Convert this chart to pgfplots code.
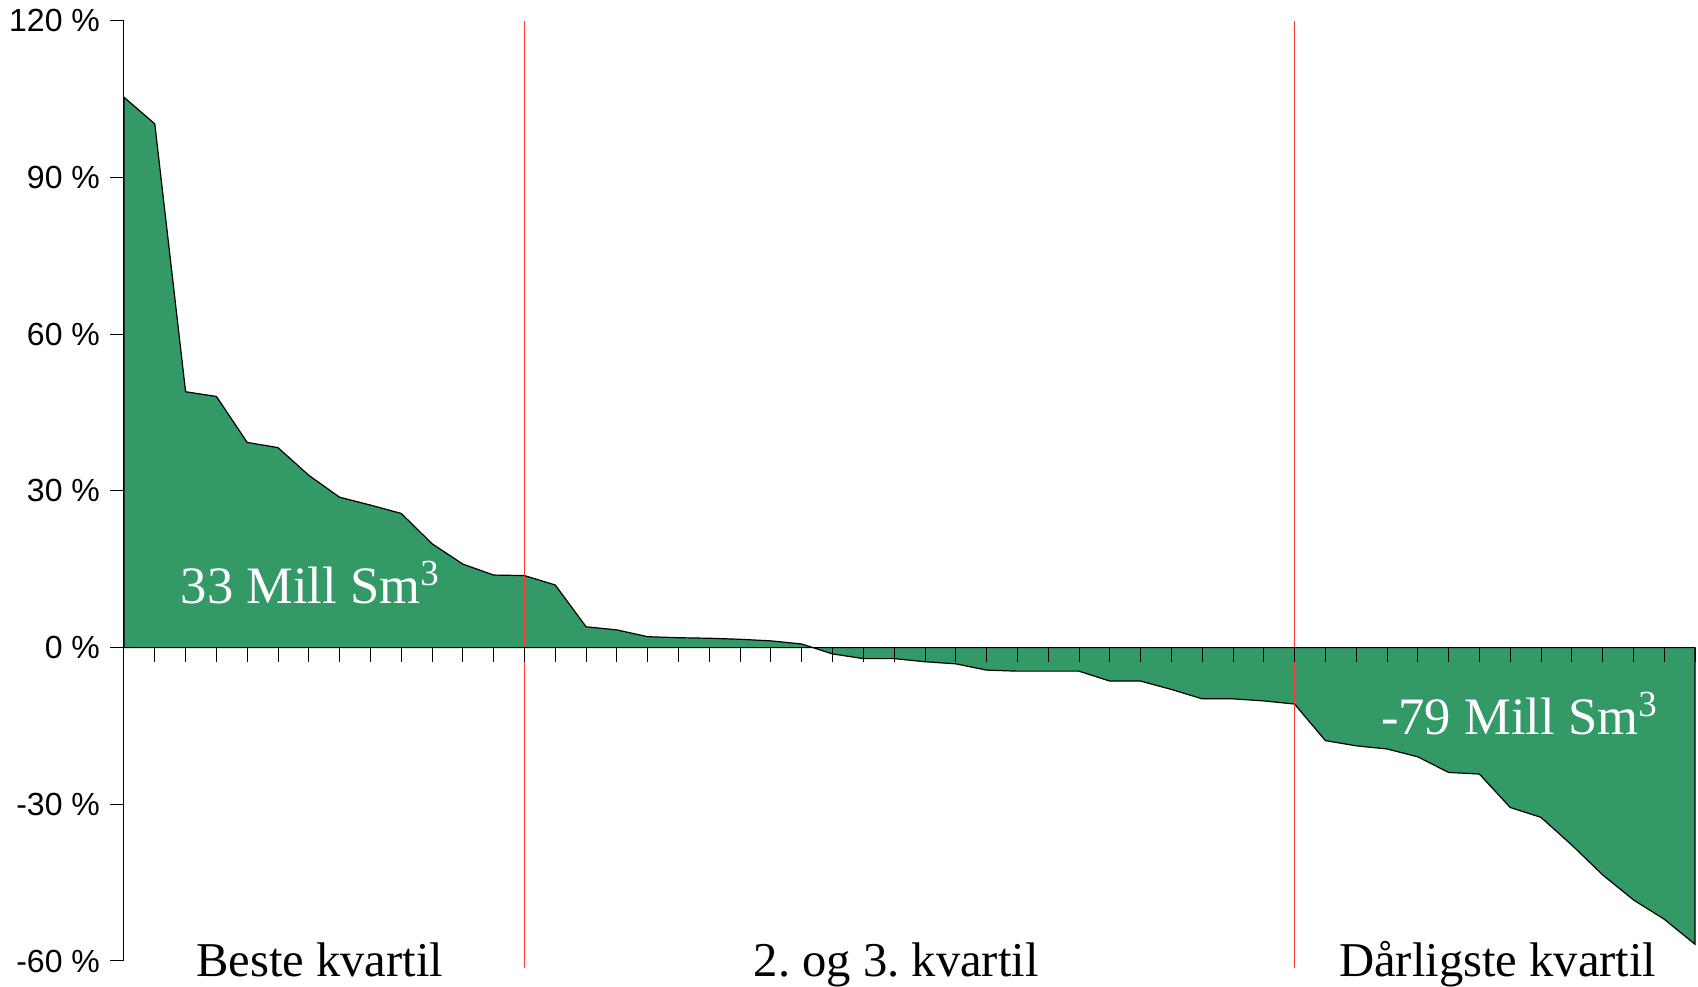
\documentclass[border=0pt]{standalone}
\usepackage{fontspec}
\setmainfont{Liberation Serif}
\newfontfamily\arial{Liberation Sans}
\usepackage{pgfplots}
\pgfplotsset{compat=1.18}
\definecolor{seagreen}{RGB}{51,153,102}
\definecolor{kvred}{RGB}{255,55,55}
\frenchspacing

\begin{document}
\begin{tikzpicture}
\begin{axis}[name=ax,
  scale only axis, width=785.5pt, height=470pt,
  xmin=0, xmax=51, ymin=-60, ymax=120,
  axis x line=middle, axis y line=left,
  axis line style={black, line width=0.5pt, -},
  axis on top, clip=false,
  xtick={1,...,51}, xticklabels={},
  ytick={-60,-30,0,30,60,90,120},
  yticklabels={-60 \%,-30 \%,0 \%,30 \%,60 \%,90 \%,120 \%},
  yticklabel style={font=\arial\fontsize{16}{18}\selectfont, xshift=-5pt},
  tick align=center, major tick length=7pt,
  x tick style={black, line width=0.4pt, yshift=-3.5pt},
  y tick style={black, line width=0.5pt, xshift=-3.5pt},
]
% positive/negative deviation per field, sorted
\addplot[fill=seagreen, draw=black, line width=0.6pt] coordinates {
(0,0) (0,105.4) (1,100.3) (2,49.0) (3,48.1) (4,39.3) (5,38.3) (6,33.0)
(7,28.8) (8,27.3) (9,25.7) (10,19.9) (11,16.0) (12,13.9) (13,13.8)
(14,12.0) (15,4.0) (16,3.4) (17,2.1) (18,1.9) (19,1.8) (20,1.6)
(21,1.3) (22,0.7) (23,-1.2) (24,-2.1) (25,-2.1) (26,-2.7) (27,-3.1)
(28,-4.3) (29,-4.5) (30,-4.5) (31,-4.5) (32,-6.4) (33,-6.4) (34,-8.0)
(35,-9.8) (36,-9.8) (37,-10.2) (38,-10.8) (39,-17.8) (40,-18.8)
(41,-19.4) (42,-20.9) (43,-23.9) (44,-24.2) (45,-30.6) (46,-32.5)
(47,-37.8) (48,-43.5) (49,-48.3) (50,-52.0) (51,-56.8) (51,0)
} -- cycle;
% quartile borders
\addplot[kvred, line width=0.75pt] coordinates {(13,120) (13,-61.3)};
\addplot[kvred, line width=0.75pt] coordinates {(38,120) (38,-61.3)};

\node[white, anchor=base, font=\fontsize{26.3}{29}\selectfont] at (axis cs:6.05,8.4) {33 Mill Sm\textsuperscript{3}};
\node[white, anchor=base, font=\fontsize{26.3}{29}\selectfont] at (axis cs:45.3,-16.7) {-79 Mill Sm\textsuperscript{3}};

\node[anchor=base, font=\fontsize{24.3}{27}\selectfont] at (axis cs:6.35,-62.9) {Beste kvartil};
\node[anchor=base, font=\fontsize{24.3}{27}\selectfont] at (axis cs:25.07,-62.9) {2. og 3. kvartil};
\node[anchor=base, font=\fontsize{24.3}{27}\selectfont] at (axis cs:44.6,-62.9) {Dårligste kvartil};
\end{axis}
\pgfresetboundingbox
\path[use as bounding box] ([xshift=-62pt,yshift=-13pt]ax.south west) rectangle ([xshift=1.5pt,yshift=10.5pt]ax.north east);
\end{tikzpicture}
\end{document}
